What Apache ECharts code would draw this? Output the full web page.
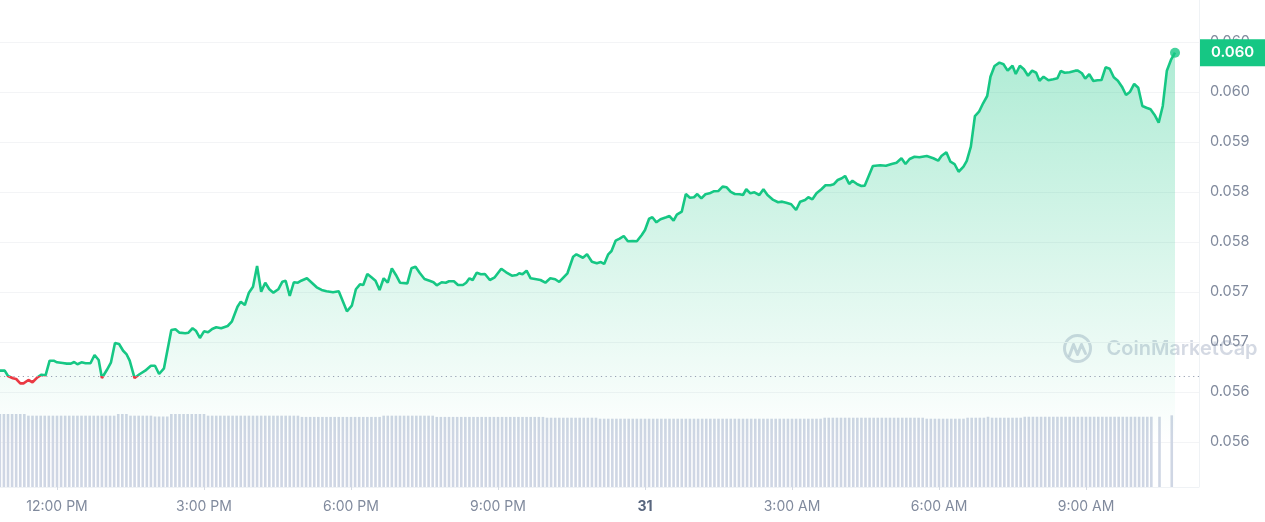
<!DOCTYPE html>
<html><head><meta charset="utf-8">
<script src="https://cdn.jsdelivr.net/npm/echarts@6/dist/echarts.min.js"></script>
<style>html,body{margin:0;padding:0;background:#fff;overflow:hidden}#c{width:1265px;height:522px}</style>
</head><body><div id="c"></div>
<script>
// ---- data ----
const startHour = 10 + 50 / 60;          // 10:50 AM on the 30th
const dayLabel = '31';
const minutes = [
0,6,10,16,20,25,29,35,40,46,
51,56,61,66,70,77,82,87,91,95,
100,105,111,116,121,125,131,136,141,146,
151,155,159,165,171,178,185,190,195,201,
210,215,220,227,231,236,240,245,250,255,
260,265,271,279,284,291,295,300,305,310,
315,320,325,330,335,341,346,350,355,360,
365,369,376,382,388,394,400,408,415,425,
431,436,441,445,450,455,460,465,470,475,
480,485,490,499,504,509,514,520,527,531,
535,541,546,550,556,561,567,571,575,579,
584,589,594,600,606,614,620,627,633,636,
640,645,650,657,662,668,674,680,685,695,
702,706,714,719,725,731,736,740,745,749,
754,759,764,769,775,780,786,790,795,799,
804,809,816,820,825,829,835,840,845,850,
854,859,864,869,874,880,885,890,895,900,
906,910,914,919,924,930,935,940,947,953,
958,963,969,975,980,986,990,995,1000,1006,
1011,1017,1021,1026,1031,1035,1040,1044,1050,1055,
1059,1069,1078,1085,1092,1098,1104,1109,1114,1120,
1126,1135,1143,1149,1153,1159,1164,1169,1174,1180,
1184,1189,1194,1199,1204,1209,1213,1218,1224,1229,
1234,1240,1244,1249,1254,1259,1264,1269,1273,1278,
1284,1290,1295,1299,1304,1310,1317,1320,1325,1329,
1334,1339,1344,1349,1354,1359,1364,1369,1374,1379,
1384,1389,1394,1399,1404,1409,1414,1419,1424,1429,1434,1439];
const prices = [
0.056444,0.056444,0.056385,0.056359,0.056351,0.056303,0.056303,0.056340,0.056315,0.056370,
0.056399,0.056392,0.056555,0.056555,0.056537,0.056529,0.056522,0.056522,0.056540,0.056515,
0.056537,0.056526,0.056526,0.056618,0.056563,0.056362,0.056451,0.056533,0.056752,0.056741,
0.056666,0.056629,0.056555,0.056362,0.056404,0.056444,0.056499,0.056499,0.056407,0.056470,
0.056897,0.056904,0.056867,0.056860,0.056867,0.056916,0.056889,0.056808,0.056882,0.056871,
0.056908,0.056927,0.056916,0.056941,0.056989,0.057156,0.057212,0.057175,0.057312,0.057379,
0.057609,0.057323,0.057423,0.057350,0.057312,0.057350,0.057434,0.057445,0.057275,0.057428,
0.057423,0.057445,0.057472,0.057423,0.057372,0.057342,0.057327,0.057316,0.057327,0.057105,
0.057167,0.057350,0.057405,0.057397,0.057520,0.057483,0.057445,0.057342,0.057472,0.057423,
0.057583,0.057509,0.057423,0.057416,0.057583,0.057601,0.057534,0.057464,0.057442,0.057428,
0.057394,0.057428,0.057423,0.057439,0.057439,0.057397,0.057397,0.057423,0.057472,0.057453,
0.057534,0.057517,0.057520,0.057453,0.057483,0.057579,0.057539,0.057501,0.057509,0.057528,
0.057517,0.057557,0.057472,0.057461,0.057453,0.057423,0.057472,0.057461,0.057431,0.057528,
0.057712,0.057739,0.057701,0.057739,0.057657,0.057639,0.057653,0.057631,0.057739,0.057776,
0.057891,0.057913,0.057943,0.057884,0.057887,0.057884,0.057954,0.058010,0.058135,0.058151,
0.058095,0.058129,0.058151,0.058165,0.058113,0.058180,0.058213,0.058410,0.058369,0.058374,
0.058410,0.058362,0.058407,0.058418,0.058440,0.058444,0.058492,0.058485,0.058433,0.058410,
0.058407,0.058399,0.058463,0.058418,0.058429,0.058399,0.058463,0.058399,0.058344,0.058318,
0.058325,0.058313,0.058296,0.058232,0.058325,0.058344,0.058374,0.058351,0.058418,0.058463,
0.058507,0.058507,0.058518,0.058566,0.058585,0.058611,0.058522,0.058558,0.058518,0.058499,
0.058503,0.058722,0.058730,0.058725,0.058744,0.058759,0.058808,0.058744,0.058800,0.058825,
0.058819,0.058833,0.058808,0.058781,0.058833,0.058874,0.058770,0.058744,0.058658,0.058714,
0.058778,0.058937,0.059278,0.059326,0.059420,0.059501,0.059716,0.059835,0.059872,0.059854,
0.059783,0.059838,0.059746,0.059838,0.059798,0.059727,0.059783,0.059760,0.059671,0.059716,
0.059676,0.059687,0.059698,0.059779,0.059760,0.059765,0.059783,0.059783,0.059754,0.059694,
0.059743,0.059668,0.059676,0.059679,0.059820,0.059805,0.059709,0.059671,0.059605,0.059512,
0.059549,0.059635,0.059593,0.059390,0.059371,0.059353,0.059290,0.059204,0.059390,0.059783,0.059902,0.059983];
const volumeStepMinutes = 5;
const volumes = [
89,89,89,89,89,89,89,87,87,87,87,87,87,87,87,87,87,87,87,87,
87,87,87,87,87,87,87,87,87,89,89,89,87,87,87,87,87,87,86,86,
86,86,89,89,89,89,89,89,89,89,89,87,87,87,87,87,87,87,87,87,
87,87,87,87,87,87,87,87,87,87,87,87,87,87,85.5,85.5,85.5,85.5,85.5,85.5,
85.5,85.5,85.5,85.5,85.5,85.5,85.5,85.5,85.5,85.5,85.5,85.5,85.5,85.5,87,87,87,87,87,87,
87,87,87,87,87,87,87,85.5,85.5,85.5,85.5,85.5,85.5,85.5,85.5,85.5,85.5,85.5,85.5,85.5,
85.5,85.5,85.5,85.5,85.5,85.5,85.5,85.5,85.5,85.5,85.5,85.5,85.5,85.5,84.5,84.5,84.5,84.5,84.5,84.5,
84.5,84.5,84.5,84.5,84.5,84.5,84.5,83.3,83.3,83.3,83.3,83.3,83.3,83.3,83.3,83.3,83.3,83.3,83.3,83.3,
83.3,83.3,83.3,83.3,83.3,83.3,83.3,83.3,83.3,83.3,83.3,83.3,83.3,83.3,83.3,83.3,83.3,83.3,83.3,83.3,
83.3,83.3,83.3,83.3,83.3,83.3,83.3,83.3,83.3,83.3,83.3,83.3,83.3,83.3,83.3,83.3,83.3,83.3,83.3,83.3,
83.3,83.3,84.5,84.5,84.5,84.5,84.5,84.5,84.5,84.5,84.5,84.5,84.5,84.5,84.5,84.5,84.5,84.5,84.5,84.5,
84.5,84.5,84.5,84.5,84.5,84.5,84.5,83.3,83.3,83.3,83.3,83.3,83.3,83.3,83.3,83.3,83.3,84.5,84.5,84.5,
84.5,84.5,85.7,84.5,84.5,84.5,84.5,84.5,84.5,84.5,84.5,85.7,85.7,85.7,85.7,85.7,85.7,85.7,85.7,85.7,
85.7,85.7,85.7,85.7,85.7,85.7,85.7,85.7,85.7,85.7,85.7,85.7,85.7,85.7,85.7,85.7,85.7,85.7,85.7,85.7,
85.7,85.7,85.7,null,85.7,null,null,87.4];
const baselinePrice = 0.05638;
const yMin = 0.05565, yInterval = 0.0005565, yTickCount = 8;
const xMin = 9, xInterval = 3, xMax = 35.306;

// ---- build ----
const yMax = yMin + yTickCount * yInterval;
const priceData = minutes.map((m, i) => [startHour + m / 60, prices[i]]);
const volumeData = volumes.map((v, i) => [startHour + i * volumeStepMinutes / 60, v]);
const last = priceData[priceData.length - 1];
const GREEN = '#16c784', RED = '#ea3943';
const FONT = 'Inter, "Noto Sans", sans-serif';

function fmtHour(v) {
  const h = ((Math.round(v) % 24) + 24) % 24;
  if (h === 0) return '{b|' + dayLabel + '}';
  const hh = h % 12 === 0 ? 12 : h % 12;
  return hh + ':00 ' + (h < 12 ? 'AM' : 'PM');
}

const chart = echarts.init(document.getElementById('c'), null, {renderer: 'canvas'});
chart.setOption({
  animation: false,
  backgroundColor: '#ffffff',
  textStyle: {fontFamily: FONT},
  grid: [
    {left: -90, right: 66, top: 42, height: 400, outerBoundsMode: 'none', containLabel: false},
    {left: -90, right: 66, top: 405, height: 82, outerBoundsMode: 'none', containLabel: false}
  ],
  xAxis: [
    {type: 'value', gridIndex: 0, min: xMin, max: xMax, interval: xInterval, show: false},
    {type: 'value', gridIndex: 1, min: xMin, max: xMax, interval: xInterval,
     axisLine: {show: true, lineStyle: {color: '#eff2f5', width: 1}},
     axisTick: {show: true, length: 3, lineStyle: {color: '#d5dae3'}},
     splitLine: {show: false},
     axisLabel: {show: true, margin: 13, fontSize: 14, color: '#808a9d', fontFamily: FONT,
       showMinLabel: false, showMaxLabel: false, formatter: fmtHour,
       rich: {b: {fontSize: 14, fontWeight: 700, color: '#58667e', fontFamily: FONT}}}}
  ],
  yAxis: [
    {type: 'value', gridIndex: 0, position: 'right', min: yMin, max: yMax,
     interval: yInterval,
     axisLine: {show: false}, axisTick: {show: false},
     splitLine: {show: true, lineStyle: {color: '#f3f4f6', width: 1}},
     axisLabel: {show: true, margin: 11, fontSize: 14.5, color: '#808a9d', fontFamily: FONT,
       formatter: v => v.toFixed(3)}},
    {type: 'value', gridIndex: 1, min: 0, max: 100, show: false, splitLine: {show: false}}
  ],
  visualMap: {
    type: 'piecewise', show: false, seriesIndex: 0, dimension: 1,
    pieces: [
      {gte: 0, lt: baselinePrice, color: RED},
      {gte: baselinePrice, lte: 1, color: GREEN}
    ],
    outOfRange: {color: GREEN}
  },
  graphic: [
    {type: 'line', silent: true, z: 1, shape: {x1: 1199.5, y1: 0, x2: 1199.5, y2: 487},
     style: {stroke: '#eff2f5', lineWidth: 1}},
    {type: 'group', left: 1062, top: 333, silent: true, z: 10, children: [
      {type: 'circle', shape: {cx: 15, cy: 15, r: 13}, style: {fill: 'none', stroke: 'rgba(170,179,200,0.5)', lineWidth: 3}},
      {type: 'polyline', shape: {points: [[7, 22], [11, 11], [15, 21], [19, 11], [23, 20]]},
       style: {fill: 'none', stroke: 'rgba(170,179,200,0.5)', lineWidth: 3, lineJoin: 'round', lineCap: 'round'}},
      {type: 'text', x: 44, y: 15, style: {text: 'CoinMarketCap', fill: 'rgba(170,179,200,0.5)',
        font: '600 20px Inter, "Noto Sans", sans-serif', verticalAlign: 'middle', align: 'left'}}
    ]}
  ],
  series: [
    {
      type: 'line', xAxisIndex: 0, yAxisIndex: 0, data: priceData,
      showSymbol: false, symbol: 'none', smooth: false, z: 3,
      lineStyle: {width: 2.6},
      areaStyle: {opacity: 1, color: new echarts.graphic.LinearGradient(0, 0, 0, 1, [
        {offset: 0, color: 'rgba(22,199,132,0.34)'},
        {offset: 1, color: 'rgba(22,199,132,0.0)'}
      ])},
      markLine: {
        silent: true, symbol: ['none', 'none'], animation: false, precision: 6,
        lineStyle: {color: 'rgba(0,0,0,0)', width: 0, type: 'solid'},
        label: {show: true, position: 'end', distance: 1, formatter: p => Number(p.value).toFixed(3),
          backgroundColor: GREEN, color: '#ffffff', fontFamily: FONT, fontSize: 15, fontWeight: 600,
          lineHeight: 15, padding: [6, 14, 6, 11], opacity: 1},
        data: [{yAxis: last[1]}]
      }
    },
    {
      type: 'scatter', xAxisIndex: 0, yAxisIndex: 0, data: [last], symbolSize: 10, z: 5,
      itemStyle: {color: GREEN}, silent: true,
      markLine: {
        silent: true, symbol: ['none', 'none'], animation: false, precision: 6,
        lineStyle: {color: '#98a1b3', type: [1.2, 3.5], width: 1.2},
        label: {show: false},
        data: [{yAxis: baselinePrice}]
      }
    },
    {
      type: 'bar', xAxisIndex: 1, yAxisIndex: 1, data: volumeData, barWidth: 2.6, z: 2,
      itemStyle: {color: '#cfd6e4'}, silent: true
    }
  ]
});
</script>
</body></html>
